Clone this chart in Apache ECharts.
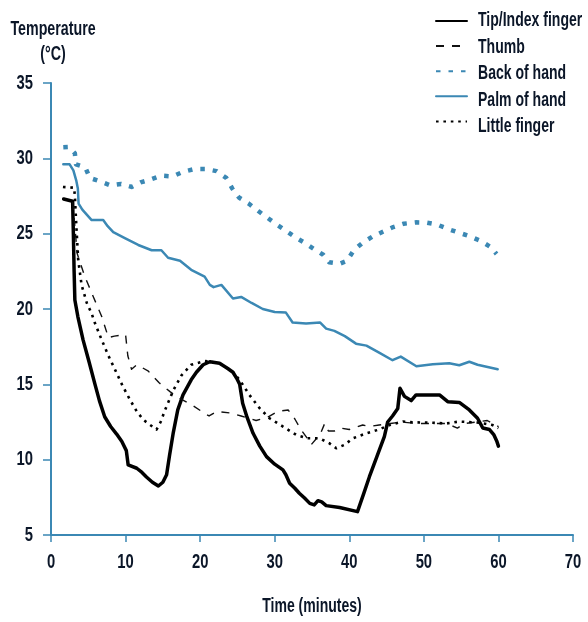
<!DOCTYPE html>
<html>
<head>
<meta charset="utf-8">
<script src="https://cdn.jsdelivr.net/npm/echarts@6/dist/echarts.min.js"></script>
<style>html,body{margin:0;padding:0;background:#fff}#c{width:588px;height:622px}</style>
</head>
<body>
<div id="c"></div>
<script>
// ---- Data (time in minutes, temperature in °C) ----
var seriesNames = ['Tip/Index finger', 'Thumb', 'Back of hand', 'Palm of hand', 'Little finger'];
var xTicks = [0, 10, 20, 30, 40, 50, 60, 70];
var yTicks = [5, 10, 15, 20, 25, 30, 35];
var xTitle = 'Time (minutes)';
var yTitle = ['Temperature', '(°C)'];

var tipIndex = [[1.7,27.3],[2.9,27.15],[3.0,25],[3.1,22.5],[3.2,20.6],[3.6,19.5],[4.3,17.95],[5.1,16.5],[5.9,15.0],[6.5,13.9],[7.2,12.85],[8.0,12.2],[8.8,11.7],[9.5,11.2],[10.1,10.6],[10.35,9.65],[11.5,9.43],[12.2,9.15],[12.8,8.85],[13.6,8.5],[14.4,8.25],[15.0,8.5],[15.5,9.0],[15.9,10.3],[16.4,11.8],[17.0,13.3],[17.7,14.3],[18.8,15.3],[19.5,15.8],[20.4,16.3],[21.3,16.5],[22.6,16.4],[23.7,16.05],[24.4,15.8],[24.9,15.4],[25.3,15.0],[25.7,13.75],[26.3,12.8],[27.1,11.75],[28.0,10.9],[28.9,10.2],[30.0,9.7],[31.1,9.32],[31.5,9.0],[32.0,8.44],[32.7,8.1],[33.3,7.77],[34.0,7.45],[34.7,7.1],[35.3,7.0],[35.8,7.28],[36.3,7.2],[36.9,6.95],[38.7,6.82],[41.1,6.55],[41.9,7.7],[42.7,8.87],[43.7,10.2],[44.7,11.53],[45.15,12.5],[45.8,12.9],[46.5,13.4],[46.8,14.74],[47.4,14.2],[48.3,13.92],[48.95,14.3],[52.1,14.3],[53.2,13.85],[54.75,13.8],[56.1,13.3],[57.2,12.75],[57.9,12.1],[58.8,12.0],[59.4,11.64],[59.8,11.2],[60.0,10.9]];

var thumb = [[2.9,27.1],[3.2,25.5],[3.5,23.7],[4.5,22.2],[5.6,20.9],[6.8,19.5],[7.7,18.1],[8.5,18.2],[10.0,18.3],[10.3,16.9],[10.8,16.0],[11.5,16.3],[13.0,15.9],[14.5,15.1],[16.0,14.5],[17.5,14.0],[19.0,13.6],[20.5,13.1],[21.2,12.9],[22.2,13.2],[24.0,13.1],[25.5,12.9],[27.5,12.6],[29.0,12.8],[30.4,13.2],[31.8,13.3],[32.7,12.7],[33.5,12.0],[34.4,11.4],[34.9,11.0],[35.6,11.4],[36.2,11.8],[36.7,12.4],[37.2,11.9],[38.0,11.9],[38.8,12.1],[40.0,12.0],[41.8,12.3],[42.7,12.2],[44.0,12.3],[45.5,12.4],[47.0,12.5],[49.0,12.4],[51.0,12.4],[53.0,12.4],[54.5,12.1],[55.5,12.4],[57.0,12.5],[58.5,12.6],[60.0,12.2]];

var backOfHand = [[1.65,30.73],[2.4,30.75],[3.2,30.33],[3.35,29.6],[4.6,29.4],[5.2,28.7],[6.7,28.45],[8.0,28.2],[9.4,28.3],[10.8,28.1],[12.0,28.4],[13.4,28.6],[14.8,28.85],[16.3,28.8],[17.7,29.1],[19.3,29.3],[20.7,29.3],[22.2,29.15],[23.5,28.7],[24.3,28.0],[25.2,27.4],[26.5,27.0],[27.8,26.5],[29.0,26.06],[30.3,25.6],[31.5,25.2],[32.8,24.75],[34.0,24.4],[35.2,24.0],[36.5,23.6],[37.3,23.1],[38.7,23.0],[39.7,23.2],[40.6,23.9],[41.8,24.4],[43.1,24.8],[44.5,25.13],[45.9,25.44],[47.3,25.66],[48.9,25.75],[50.4,25.73],[51.8,25.6],[53.3,25.3],[54.8,25.05],[56.3,24.8],[57.7,24.5],[59.0,24.1],[59.75,23.65]];

var palmOfHand = [[1.65,29.6],[2.5,29.6],[3.0,29.2],[3.4,28.5],[3.6,28.0],[3.7,27.0],[4.2,26.6],[5.45,25.9],[7.0,25.9],[7.6,25.5],[8.35,25.1],[9.9,24.7],[11.7,24.25],[13.5,23.9],[14.8,23.9],[15.7,23.4],[17.3,23.2],[18.8,22.6],[20.6,22.15],[21.3,21.6],[21.8,21.45],[22.85,21.6],[24.4,20.7],[25.5,20.8],[26.9,20.4],[28.4,20.0],[30.0,19.8],[31.5,19.76],[32.4,19.1],[34.2,19.03],[36.1,19.1],[36.9,18.7],[38.0,18.55],[39.4,18.2],[40.9,17.7],[42.3,17.57],[44.0,17.1],[45.8,16.6],[46.9,16.84],[49.0,16.2],[51.2,16.33],[53.4,16.4],[54.75,16.27],[56.1,16.5],[57.2,16.3],[59.9,16.0]];

var littleFinger = [[1.6,28.1],[3.1,28.05],[3.2,27.5],[3.4,25.5],[3.65,23.25],[4.1,21.6],[4.8,20.4],[5.45,19.7],[5.9,19.05],[6.8,17.95],[7.7,16.9],[8.6,15.96],[9.6,14.9],[10.6,13.97],[11.5,13.2],[12.4,12.64],[13.3,12.3],[14.15,12.0],[14.7,12.5],[15.3,13.3],[16.4,14.6],[17.5,15.6],[18.8,16.3],[20.6,16.55],[21.3,16.5],[22.6,16.4],[23.7,16.05],[24.4,15.8],[25.3,15.3],[26.6,14.3],[28.0,13.4],[29.3,12.75],[31.1,12.2],[32.9,11.64],[34.4,11.42],[36.0,11.42],[37.3,11.1],[38.25,10.76],[39.35,10.98],[40.5,11.42],[42.3,11.75],[43.8,11.97],[45.4,12.3],[47.2,12.53],[48.5,12.48],[50.7,12.46],[53.0,12.4],[54.75,12.53],[57.4,12.46],[59.2,12.3],[60.0,12.1]];

// ---- Styles ----
var BLUE = '#3b88b4';
var INK = '#0b1628';
var FONT = '"Liberation Sans", Arial, sans-serif';

var chart = echarts.init(document.getElementById('c'), null, {renderer: 'canvas'});

function line(name, data, color, width, type, cap) {
  return {
    name: name, type: 'line', data: data,
    showSymbol: false, symbol: 'none', smooth: false,
    lineStyle: {color: color, width: width, type: type, cap: cap || 'butt', join: 'round'},
    itemStyle: {color: color},
    emphasis: {disabled: true},
    animation: false
  };
}

var legendTop = 14, legendItemH = 14, legendGap = 12.5;

chart.setOption({
  animation: false,
  grid: {left: 51, right: 15, top: 83, bottom: 87, containLabel: false},
  legend: {
    left: 435, top: legendTop, orient: 'vertical', padding: 0,
    itemWidth: 31, itemHeight: legendItemH, itemGap: legendGap,
    data: seriesNames,
    itemStyle: {color: 'rgba(0,0,0,0)', borderWidth: 0, opacity: 0},
    formatter: function () { return ''; },
    textStyle: {fontSize: 12, padding: 0}
  },
  xAxis: {
    type: 'value', min: 0, max: 70, interval: 10,
    axisLine: {show: true, lineStyle: {color: BLUE, width: 2}},
    axisTick: {show: true, length: 7, lineStyle: {color: BLUE, width: 1.5}},
    axisLabel: {show: false},
    splitLine: {show: false}
  },
  yAxis: {
    type: 'value', min: 5, max: 35, interval: 5,
    axisLine: {show: true, lineStyle: {color: BLUE, width: 2}},
    axisTick: {show: true, length: 8, lineStyle: {color: BLUE, width: 1.5}},
    axisLabel: {show: false},
    splitLine: {show: false}
  },
  series: [
    line(seriesNames[0], tipIndex, '#000000', 3.5, 'solid', 'round'),
    line(seriesNames[1], thumb, '#111111', 1.4, [8, 8]),
    line(seriesNames[2], backOfHand, BLUE, 4.5, [4.5, 8]),
    line(seriesNames[3], palmOfHand, BLUE, 2.5, 'solid', 'round'),
    line(seriesNames[4], littleFinger, '#000000', 2.6, [2.6, 4.8])
  ]
});

// ---- Condensed text (real text, horizontally scaled to mimic a condensed face) ----
function txt(text, x, y, size, align, scale) {
  return {
    type: 'text', x: x, y: y, scaleX: scale, silent: true, z: 100,
    style: {
      text: text, x: 0, y: 0, fill: INK,
      font: 'bold ' + size + 'px ' + FONT,
      align: align, verticalAlign: 'middle',
      textAlign: align, textVerticalAlign: 'middle'
    }
  };
}

var els = [];
var grid = chart.getModel().getComponent('grid').coordinateSystem.getRect();
xTicks.forEach(function (v) {
  var px = chart.convertToPixel({xAxisIndex: 0}, v);
  els.push(txt(String(v), px, grid.y + grid.height + 27, 20, 'center', 0.74));
});
yTicks.forEach(function (v) {
  var py = chart.convertToPixel({yAxisIndex: 0}, v);
  els.push(txt(String(v), grid.x - 18, py, 20, 'right', 0.74));
});
els.push(txt(yTitle[0], grid.x + 2, 30, 19.5, 'center', 0.73));
els.push(txt(yTitle[1], grid.x + 2, 55, 19.5, 'center', 0.73));
els.push(txt(xTitle, grid.x + grid.width / 2, 607, 19.5, 'center', 0.72));
seriesNames.forEach(function (n, i) {
  els.push(txt(n, 478, legendTop + legendItemH / 2 + i * (legendItemH + legendGap), 19.5, 'left', 0.72));
});
chart.setOption({graphic: {elements: els}});
</script>
</body>
</html>
